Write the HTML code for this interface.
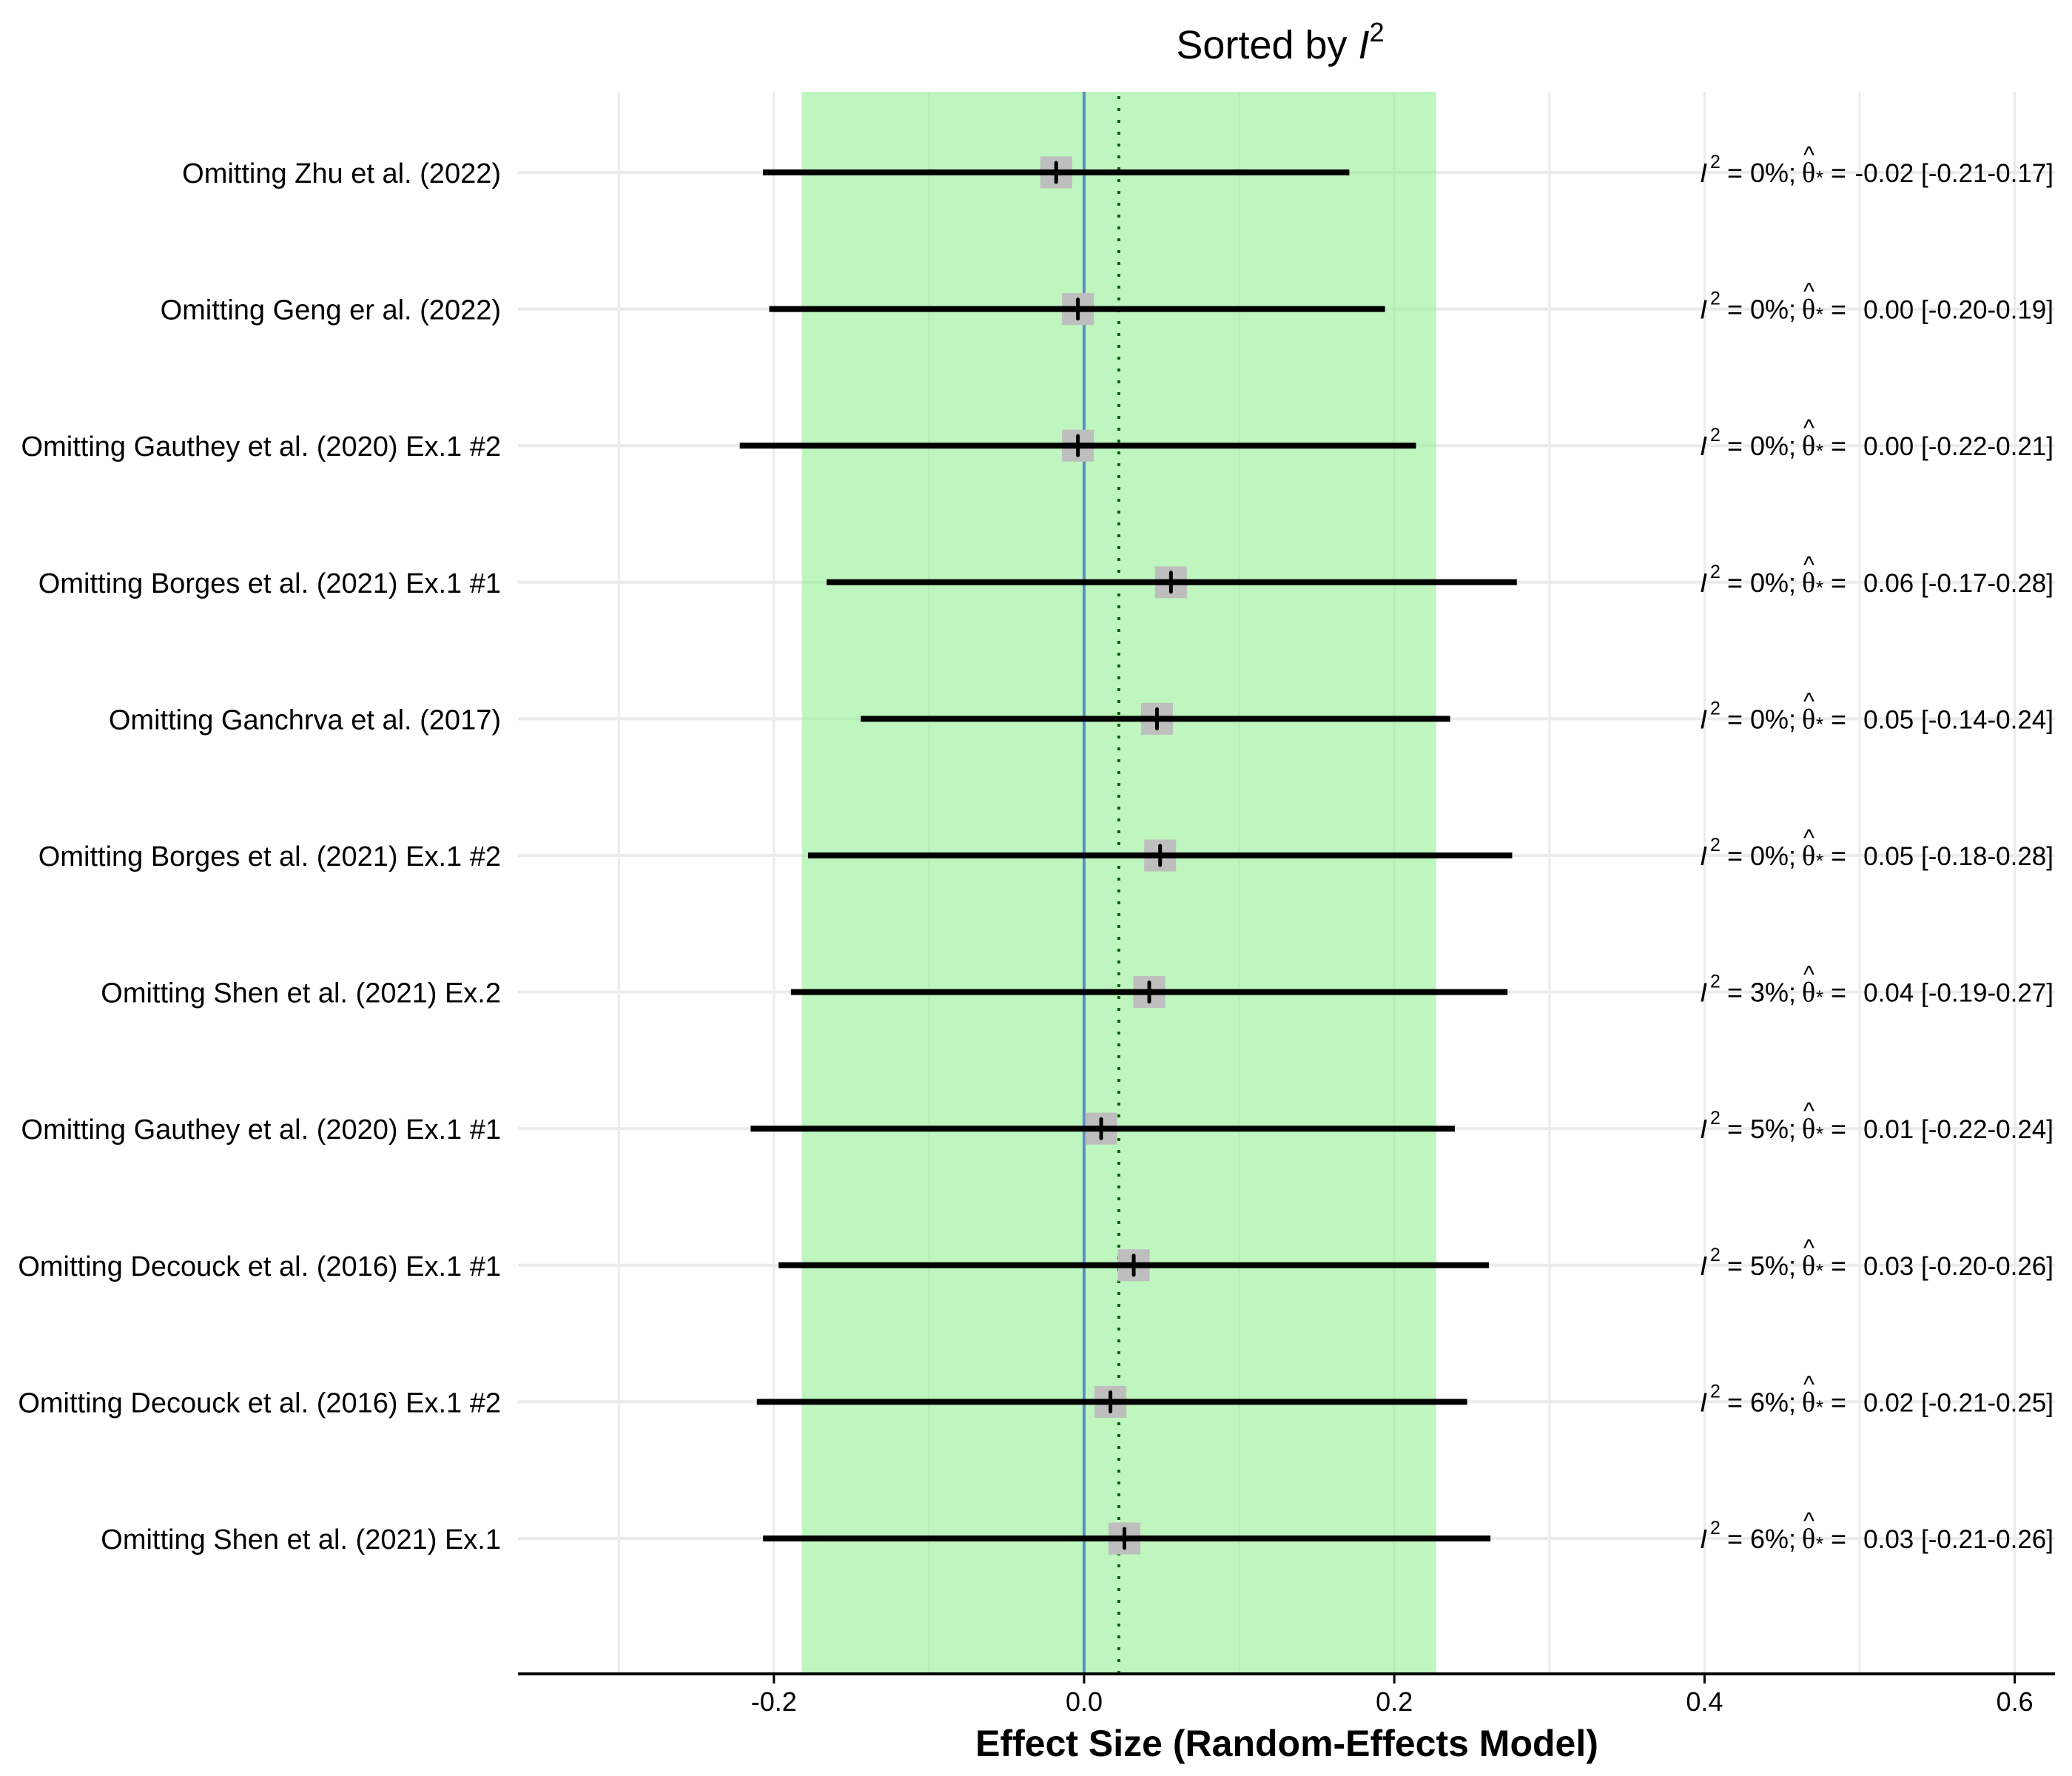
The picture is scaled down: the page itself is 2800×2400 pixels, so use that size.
<!DOCTYPE html>
<html><head><meta charset="utf-8"><style>
html,body{margin:0;padding:0;background:#fff;}
svg{display:block;}
text{font-family:"Liberation Sans",Arial,sans-serif;fill:#000;}
</style></head><body>
<svg id="chart" width="2800" height="2400" viewBox="0 0 2800 2400" xmlns="http://www.w3.org/2000/svg">
<text x="1730" y="79" text-anchor="middle" font-size="54">Sorted by <tspan font-style="italic">I</tspan><tspan font-size="36" dy="-23">2</tspan></text>
<g id="grid"></g>
<g id="marks"></g>
<g id="axis"></g>
<g id="labels"></g>
<g id="stats"></g>
<text x="1739" y="2373" text-anchor="middle" font-size="50" font-weight="bold">Effect Size (Random-Effects Model)</text>
</svg>
<script>
const studies = ["Omitting Zhu et al. (2022)","Omitting Geng er al. (2022)","Omitting Gauthey et al. (2020) Ex.1 #2","Omitting Borges et al. (2021) Ex.1 #1","Omitting Ganchrva et al. (2017)","Omitting Borges et al. (2021) Ex.1 #2","Omitting Shen et al. (2021) Ex.2","Omitting Gauthey et al. (2020) Ex.1 #1","Omitting Decouck et al. (2016) Ex.1 #1","Omitting Decouck et al. (2016) Ex.1 #2","Omitting Shen et al. (2021) Ex.1"];
const estimates = [-0.018,-0.004,-0.004,0.056,0.047,0.049,0.042,0.011,0.032,0.017,0.026];
const lowers = [-0.207,-0.203,-0.222,-0.166,-0.144,-0.178,-0.189,-0.215,-0.197,-0.211,-0.207];
const uppers = [0.171,0.194,0.214,0.279,0.236,0.276,0.273,0.239,0.261,0.247,0.262];
const i2Values = [0,0,0,0,0,0,3,5,5,6,6];
const estLabels = ["-0.02","0.00","0.00","0.06","0.05","0.05","0.04","0.01","0.03","0.02","0.03"];
const ciLabels = ["[-0.21-0.17]","[-0.20-0.19]","[-0.22-0.21]","[-0.17-0.28]","[-0.14-0.24]","[-0.18-0.28]","[-0.19-0.27]","[-0.22-0.24]","[-0.20-0.26]","[-0.21-0.25]","[-0.21-0.26]"];
const xTicks = [-0.2,0.0,0.2,0.4,0.6];
const xTickLabels = ["-0.2","0.0","0.2","0.4","0.6"];
const gridValues = [-0.3,-0.2,-0.1,0.0,0.1,0.2,0.3,0.4,0.5,0.6];
const pooledBand = [-0.182,0.227];
const pooledEstimate = [0.0224];
const nullValue = [0];

const NS="http://www.w3.org/2000/svg";
const L=700,R=2777,T=124,B=2262;
function x(v){return 1465+2096*v;}
function y(i){return 233+184.6*i;}
function mk(tag,attrs,parent){const e=document.createElementNS(NS,tag);for(const k in attrs)e.setAttribute(k,attrs[k]);parent.appendChild(e);return e;}
const grid=document.getElementById('grid'),marks=document.getElementById('marks'),axis=document.getElementById('axis'),labels=document.getElementById('labels'),stats=document.getElementById('stats');

gridValues.forEach(v=>{const g=mk('line',{x1:x(v),x2:x(v),y1:T,y2:B,stroke:'#ebebeb','stroke-width':3},grid);

});
studies.forEach((s,i)=>{const g=mk('line',{x1:L,x2:R,y1:y(i),y2:y(i),stroke:'#ebebeb','stroke-width':4},grid);

});

const band=mk('rect',{x:x(pooledBand[0]),y:T,width:x(pooledBand[1])-x(pooledBand[0]),height:B-T,fill:'#90ee90','fill-opacity':0.58},marks);


const nl=mk('line',{x1:x(nullValue[0]),x2:x(nullValue[0]),y1:T,y2:B,stroke:'#5b8dc8','stroke-width':4},marks);


const pl=mk('line',{x1:x(pooledEstimate[0]),x2:x(pooledEstimate[0]),y1:T+6,y2:B,stroke:'#006400','stroke-width':4,'stroke-dasharray':'4 12'},marks);



studies.forEach((s,i)=>{
  const yy=y(i);
  const box=mk('rect',{x:x(estimates[i])-21.5,y:yy-21.5,width:43,height:43,fill:'#bebebe'},marks);
  
  
  const ci=mk('line',{x1:x(lowers[i]),x2:x(uppers[i]),y1:yy,y2:yy,stroke:'#000','stroke-width':8},marks);
  
  
  const pt=mk('line',{x1:x(estimates[i]),x2:x(estimates[i]),y1:yy-13,y2:yy+13,stroke:'#000','stroke-width':5,'stroke-linecap':'round'},marks);
  
  
  const lb=mk('text',{x:677,y:yy+14,'text-anchor':'end','font-size':38},labels);
  lb.textContent=s;
  
  
  const st=mk('g',{},stats);
  
  
  const by=yy+13;
  const t1=mk('text',{x:2297,y:by,'font-size':36,'font-style':'italic'},st);t1.textContent='I';
  const t2=mk('text',{x:2311,y:by-19,'font-size':25},st);t2.textContent='2';
  const t3=mk('text',{x:2334,y:by,'font-size':36},st);t3.textContent='= '+i2Values[i]+'%;';
  const t4=mk('text',{x:2435,y:by,'font-size':38,style:'font-family:"Liberation Serif",serif'},st);t4.textContent='θ';
  const t5=mk('text',{x:2437,y:by-26,'font-size':32},st);t5.textContent='^';
  const t6=mk('text',{x:2454,y:by+3,'font-size':26},st);t6.textContent='*';
  const t7=mk('text',{x:2474,y:by,'font-size':36},st);t7.textContent='=';
  const t8=mk('text',{x:2775,y:by,'font-size':35,'text-anchor':'end'},st);t8.textContent=estLabels[i]+' '+ciLabels[i];
});

const ax=mk('line',{x1:L,x2:R,y1:B,y2:B,stroke:'#000','stroke-width':4},axis);


xTicks.forEach((v,i)=>{
  const tk=mk('line',{x1:x(v),x2:x(v),y1:B,y2:B+13,stroke:'#000','stroke-width':3},axis);
  
  
  const tl=mk('text',{x:x(v),y:2312,'text-anchor':'middle','font-size':36},axis);
  tl.textContent=xTickLabels[i];
  
  
});
</script>
</body></html>
